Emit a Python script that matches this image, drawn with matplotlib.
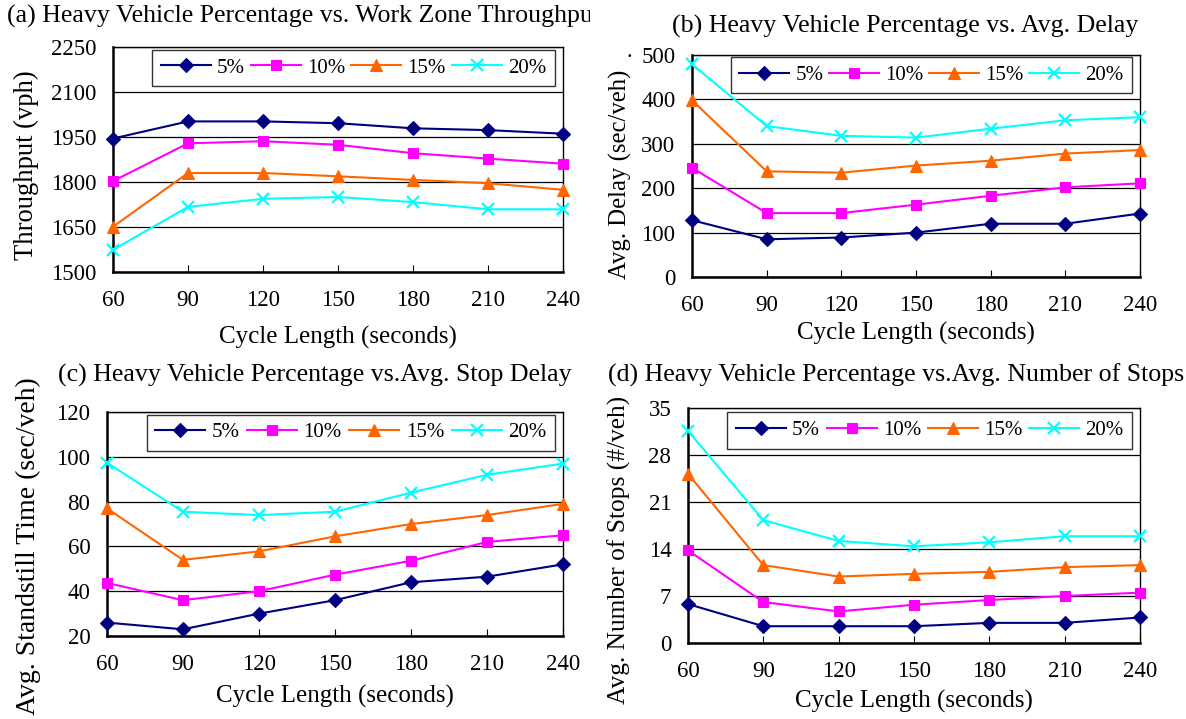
import matplotlib
matplotlib.use('Agg')
import matplotlib.pyplot as plt
from matplotlib.transforms import Bbox, TransformedBbox

plt.rcParams['font.family'] = ['Liberation Serif', 'DejaVu Serif']

cycle = [60, 90, 120, 150, 180, 210, 240]
series_names = ['5%', '10%', '15%', '20%']

# (a) throughput (vph)
thr_5 = [1945, 2002, 2002, 1996, 1979, 1973, 1961]
thr_10 = [1803, 1929, 1936, 1924, 1896, 1878, 1861]
thr_15 = [1651, 1830, 1830, 1819, 1807, 1796, 1774]
thr_20 = [1574, 1717, 1744, 1750, 1733, 1709, 1709]

# (b) avg delay (sec/veh)
dly_5 = [128, 85, 89, 100, 120, 120, 143]
dly_10 = [246, 144, 144, 163, 183, 202, 211]
dly_15 = [398, 238, 235, 251, 262, 278, 286]
dly_20 = [479, 340, 318, 314, 334, 353, 360]

# (c) standstill time (sec/veh)
std_5 = [26, 23, 30, 36, 44, 46.5, 52]
std_10 = [43.7, 36, 40, 47.4, 53.6, 62, 65]
std_15 = [77, 54, 57.8, 64.5, 70, 74, 79]
std_20 = [97.4, 75.5, 74, 75.5, 84, 92, 97]

# (d) number of stops (#/veh)
stp_5 = [5.8, 2.5, 2.5, 2.5, 3.0, 3.0, 3.8]
stp_10 = [13.8, 6.1, 4.7, 5.7, 6.4, 7.0, 7.5]
stp_15 = [25.2, 11.6, 9.9, 10.3, 10.6, 11.3, 11.6]
stp_20 = [31.6, 18.3, 15.2, 14.4, 15.0, 15.9, 15.9]

colors = ['#000080', '#FF00FF', '#FF6600', '#00FFFF']
markers = ['D', 's', '^', 'x']
msizes = [7, 7, 8.5, 8.5]

W, H = 1186, 719

panels = [
    dict(rect=[0.0953, 0.6217, 0.3794, 0.3129], data=[thr_5, thr_10, thr_15, thr_20],
         ylim=(1500, 2250), yticks=[1500, 1650, 1800, 1950, 2100, 2250],
         ylabel='Throughput (vph)', ylsize=19.2, ylpos=(26, 165), xlpad=10.5,
         title='(a) Heavy Vehicle Percentage vs. Work Zone Throughput', tx=0.006, ty=0.977),
    dict(rect=[0.5835, 0.6147, 0.3777, 0.3088], data=[dly_5, dly_10, dly_15, dly_20],
         ylim=(0, 500), yticks=[0, 100, 200, 300, 400, 500],
         ylabel='Avg. Delay (sec/veh)', ylsize=17.8, ylpos=(620, 174), xlpad=4,
         title='(b) Heavy Vehicle Percentage vs. Avg. Delay', tx=0.5666, ty=0.963),
    dict(rect=[0.0902, 0.1154, 0.3845, 0.3115], data=[std_5, std_10, std_15, std_20],
         ylim=(20, 120), yticks=[20, 40, 60, 80, 100, 120],
         ylabel='Avg. Standstill Time (sec/veh)', ylsize=20, ylpos=(28, 546), xlpad=7,
         title='(c) Heavy Vehicle Percentage vs.Avg. Stop Delay', tx=0.049, ty=0.478),
    dict(rect=[0.5801, 0.1057, 0.381, 0.3268], data=[stp_5, stp_10, stp_15, stp_20],
         ylim=(0, 35), yticks=[0, 7, 14, 21, 28, 35],
         ylabel='Avg. Number of Stops (#/veh)', ylsize=18.3, ylpos=(619, 550), xlpad=6,
         title='(d) Heavy Vehicle Percentage vs.Avg. Number of Stops', tx=0.5127, ty=0.478),
]

fig = plt.figure(figsize=(11.86, 7.19), dpi=100)

for p in panels:
    ax = fig.add_axes(p['rect'])
    for vals, name, c, m, ms in zip(p['data'], series_names, colors, markers, msizes):
        ax.plot(cycle, vals, color=c, marker=m, markersize=ms, linewidth=1.5,
                markeredgewidth=1.6 if m == 'x' else 0.8, label=name, clip_on=False, zorder=3)
    ax.set_xlim(60, 240)
    ax.set_ylim(*p['ylim'])
    ax.set_xticks(cycle)
    ax.set_yticks(p['yticks'])
    ax.yaxis.grid(True, color='black', linewidth=0.9)
    ax.set_axisbelow(True)
    for s in ax.spines.values():
        s.set_linewidth(1.0)
    ax.spines['left'].set_linewidth(1.8)
    ax.spines['bottom'].set_linewidth(1.8)
    ax.tick_params(axis='x', direction='in', length=5, labelsize=16.5, pad=13)
    ax.tick_params(axis='y', length=0, labelsize=16.5, pad=12)
    ax.set_xlabel('Cycle Length (seconds)', fontsize=18, labelpad=p['xlpad'])
    ax.set_ylabel(p['ylabel'], fontsize=p['ylsize'])
    lx, ly = p['ylpos']
    ax.yaxis.set_label_coords(lx / W, 1 - ly / H, transform=fig.transFigure)
    ax.yaxis.label.set_verticalalignment('center')
    leg = ax.legend(loc='lower left', bbox_to_anchor=(0.087, 0.827, 0.895, 0.173), mode='expand',
                    ncol=4, fontsize=15, frameon=True, fancybox=False, shadow=False,
                    borderaxespad=0, handlelength=2.4, handletextpad=0.3, columnspacing=0.8)
    leg.get_frame().set_edgecolor('black')
    leg.get_frame().set_linewidth(1.0)
    t = fig.text(p['tx'], p['ty'], p['title'], fontsize=18.6, ha='left', va='center')
    if p['tx'] < 0.01:
        t.set_clip_box(TransformedBbox(Bbox([[0, 0], [0.4975, 1]]), fig.transFigure))
        t.set_clip_on(True)

# stray dot above the (b) y label
fig.text(629 / W, 1 - 57 / H, '.', fontsize=16, ha='center', va='baseline')

fig.savefig('out.png', dpi=100)
